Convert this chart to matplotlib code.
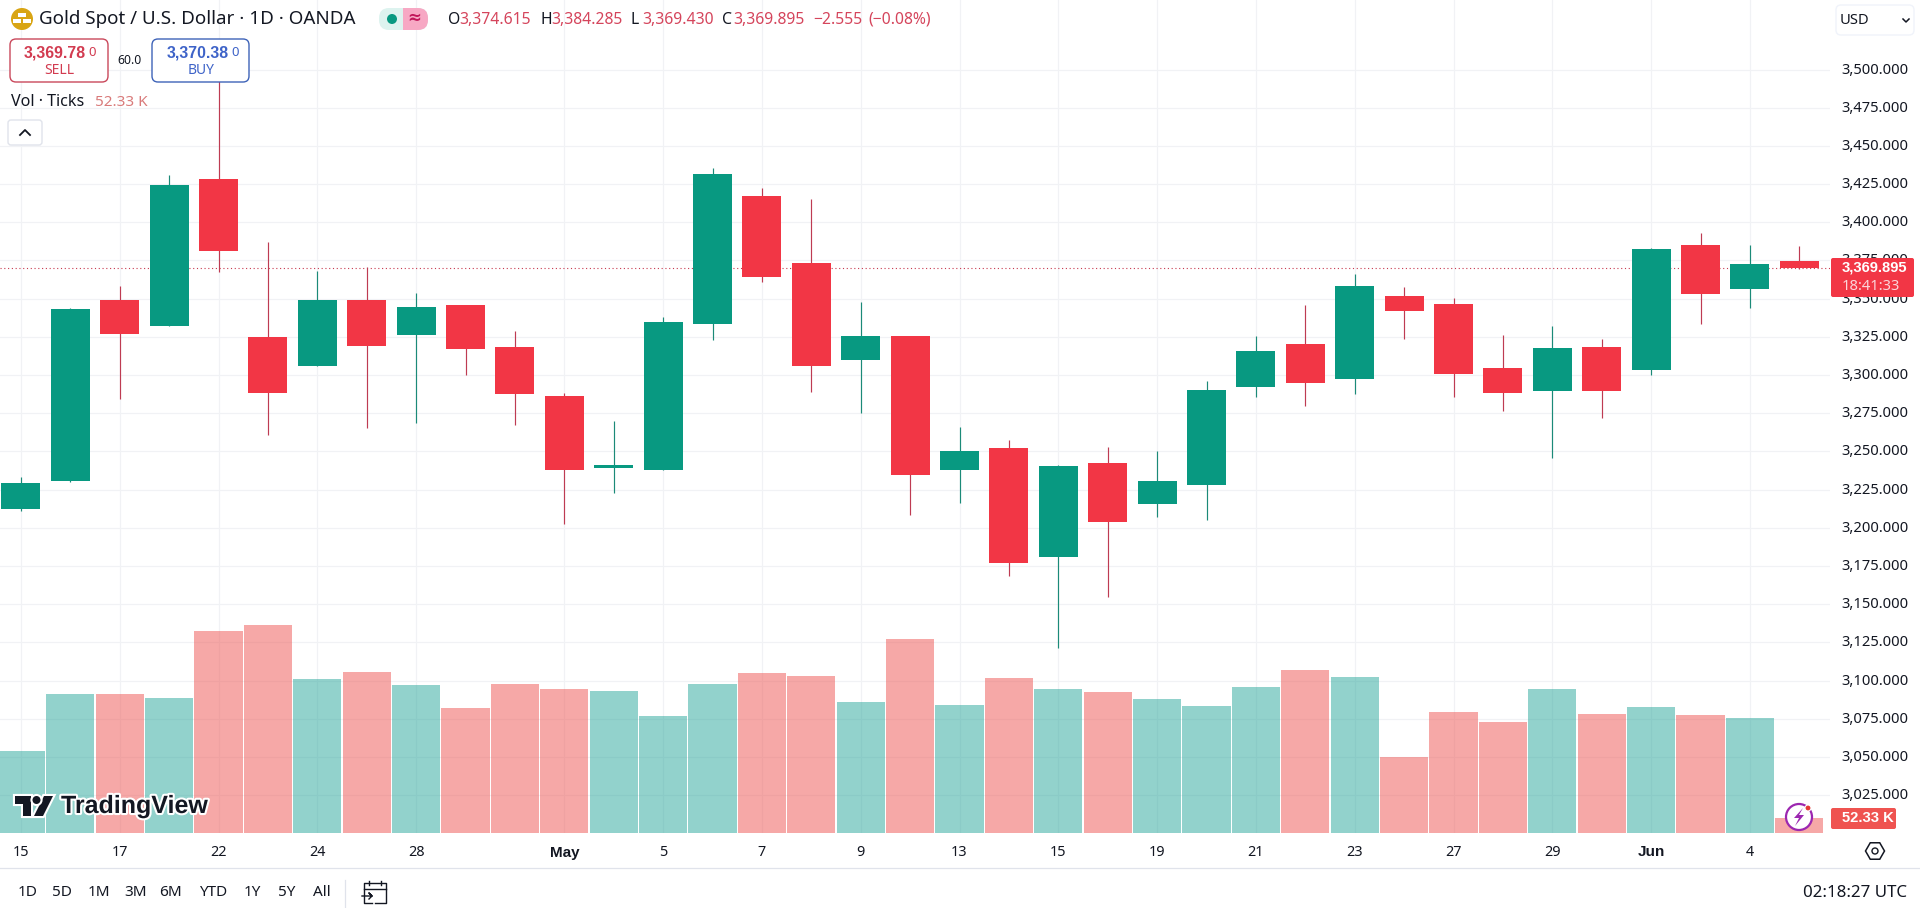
import matplotlib
matplotlib.use("Agg")
import matplotlib.pyplot as plt
import matplotlib.patheffects as pe
from matplotlib.patches import Circle, FancyBboxPatch, Polygon, Rectangle
from matplotlib.transforms import ScaledTranslation
import numpy as np

plt.rcParams['font.family'] = ['Noto Sans', 'DejaVu Sans']

# daily candles
opens = [3212.1, 3230.6, 3349.1, 3332.1, 3428.3, 3324.9, 3306.1, 3349.1, 3326.2, 3345.8,
         3318.3, 3286.2, 3239.1, 3237.8, 3333.4, 3417.2, 3373.3, 3309.8, 3325.5, 3237.8,
         3252.2, 3180.9, 3242.4, 3215.6, 3228.0, 3292.1, 3320.3, 3297.4, 3351.7, 3346.5,
         3304.6, 3289.5, 3318.3, 3303.3, 3385.1, 3356.3, 3374.615]
highs = [3233.0, 3343.7, 3358.3, 3431.0, 3500.1, 3387.1, 3368.1, 3370.7, 3353.5, 3345.8,
         3328.8, 3288.0, 3269.9, 3338.0, 3435.3, 3422.4, 3415.2, 3347.8, 3325.5, 3266.0,
         3257.4, 3241.0, 3252.9, 3250.2, 3296.1, 3325.5, 3345.8, 3366.1, 3357.6, 3350.4,
         3326.2, 3332.1, 3323.6, 3382.9, 3393.0, 3385.1, 3384.285]
lows = [3211.0, 3230.0, 3284.3, 3332.1, 3367.6, 3260.7, 3306.1, 3265.3, 3268.8, 3300.0,
        3267.3, 3202.5, 3222.7, 3237.8, 3322.9, 3360.9, 3288.9, 3275.1, 3208.3, 3216.2,
        3168.4, 3121.3, 3154.7, 3207.0, 3205.1, 3285.6, 3279.7, 3287.6, 3323.6, 3285.6,
        3276.4, 3245.7, 3271.9, 3300.0, 3333.4, 3343.9, 3369.43]
closes = [3229.6, 3343.2, 3326.8, 3424.4, 3381.2, 3288.2, 3349.1, 3319.0, 3344.5, 3317.0,
          3287.6, 3237.8, 3241.1, 3334.7, 3431.6, 3364.2, 3305.9, 3325.5, 3234.5, 3250.2,
          3176.9, 3240.4, 3203.8, 3230.6, 3290.2, 3315.7, 3294.8, 3358.3, 3341.9, 3300.7,
          3288.2, 3317.7, 3289.5, 3382.5, 3353.0, 3372.7, 3369.895]
volumes = [291, 494, 494, 480, 718, 739, 547, 572, 526, 444, 529, 512, 504, 415, 529, 569,
           558, 465, 690, 455, 551, 512, 501, 476, 451, 519, 579, 554, 269, 430, 394, 512,
           423, 447, 419, 408, 52.33]

date_idx = [0, 2, 4, 6, 8, 11, 13, 15, 17, 19, 21, 23, 25, 27, 29, 31, 33, 35]
date_labels = ['15', '17', '22', '24', '28', 'May', '5', '7', '9', '13', '15', '19', '21',
               '23', '27', '29', 'Jun', '4']
price_ticks = list(range(3025, 3525, 25))
ranges = ['1D', '5D', '1M', '3M', '6M', 'YTD', '1Y', '5Y', 'All']
range_x = [28, 62, 99, 135.5, 171, 213, 252, 286.5, 321.5]

UP, DOWN = '#089981', '#F23645'
TEXT = '#131722'
GRID = '#F1F2F5'
BOLD = 'Liberation Sans'

W, H = 1920, 908
PANE_W, PANE_H = 1830, 833
VOL_TOP = 2965.0

fig = plt.figure(figsize=(W / 100, H / 100), dpi=100, facecolor='white')
ax = fig.add_axes([0, 1 - PANE_H / H, PANE_W / W, PANE_H / H])

x = np.arange(len(opens))
o, h, l, c = map(np.array, (opens, highs, lows, closes))
up = c >= o
colors = np.where(up, UP, DOWN)
wick_colors = np.where(up, '#1B8A78', '#BE3B52')
vol_colors = np.where(up, '#26A69A', '#EF5350')

# volume sits in the same axes, scaled to the pane height
ax.bar(x, np.array(volumes) / VOL_TOP, width=0.975, color=vol_colors, alpha=0.5,
       transform=ax.get_xaxis_transform(), zorder=1, linewidth=0)
ax.axhline(closes[-1], color='#C8394F', lw=0.8, ls=(0, (1, 2.4)), zorder=1.5)
ax.vlines(x, l, h, colors=wick_colors, lw=0.85, zorder=2)
ax.bar(x, np.abs(c - o), bottom=np.minimum(o, c), width=0.79, color=colors, zorder=3, linewidth=0)

ax.set_xlim(-0.423, 36.62)
ax.set_ylim(3000.17, 3545.5)

ax.set_axisbelow(True)
ax.grid(True, color=GRID, lw=0.85)
ax.set_xticks(date_idx, date_labels)
ax.set_yticks(price_ticks, [f'{p:,.3f}' for p in price_ticks])
ax.yaxis.tick_right()
ax.tick_params(axis='y', length=0, pad=8.5, labelsize=10.6, labelcolor=TEXT)
ax.tick_params(axis='x', length=0, pad=9, labelsize=10.4, labelcolor=TEXT)
nudge = ScaledTranslation(0, 1.5 / 100, fig.dpi_scale_trans)
for t in ax.get_yticklabels():
    t.set_transform(t.get_transform() + nudge)
for t in ax.get_xticklabels():
    if t.get_text() in ('May', 'Jun'):
        t.set_fontweight('bold')
        t.set_family(BOLD)
        t.set_fontsize(11)
for s in ax.spines.values():
    s.set_visible(False)

# everything around the chart is drawn in pixel coordinates on top
ui = fig.add_axes([0, 0, 1, 1], zorder=10)
ui.set_xlim(0, W)
ui.set_ylim(H, 0)
ui.axis('off')


def label(px, py, s, color=TEXT, size=10.4, ha='left', **kw):
    return ui.text(px, py, s, color=color, fontsize=size, ha=ha, va='center', **kw)


def box(x0, y0, x1, y1, fc='white', ec='none', lw=1.0, r=4, **kw):
    p = FancyBboxPatch((x0 + r, y0 + r), x1 - x0 - 2 * r, y1 - y0 - 2 * r,
                       boxstyle=f'round,pad={r},rounding_size={r}', fc=fc, ec=ec, lw=lw, **kw)
    ui.add_patch(p)
    return p


# header
ui.add_patch(Circle((22, 19), 11, fc='#D9A514', ec='none'))
for bx, by in [(17, 21), (27, 21), (22, 15)]:
    ui.add_patch(Rectangle((bx - 4, by - 2), 8, 4, fc='white', ec='none'))
label(39, 19.5, 'Gold Spot / U.S. Dollar · 1D · OANDA', size=13.5)

box(379, 8, 428, 30, fc='#DDF3EF', r=10)
box(403, 8, 428, 30, fc='#F7A8C4', r=10)
ui.add_patch(Rectangle((403, 8), 12, 22, fc='#F7A8C4', ec='none'))
ui.add_patch(Circle((392, 19), 5, fc=UP, ec='none'))
label(414, 19, '≈', color='#C2185B', size=12, ha='center', fontweight='bold')

ohlc_red = '#D5455C'
for lx, vx, k, v in [(448, 459, 'O', '3,374.615'), (540, 551, 'H', '3,384.285'),
                     (631, 642, 'L', '3,369.430'), (722, 733, 'C', '3,369.895')]:
    label(lx, 20, k, size=11.3)
    label(vx, 20, v, color=ohlc_red, size=11.3)
label(813, 20, '−2.555', color=ohlc_red, size=11.3)
label(868, 20, '(−0.08%)', color=ohlc_red, size=11.3)

# sell / buy
box(10, 39, 108, 82, ec='#C9485B', lw=1.0, r=6)
label(24, 53, '3,369.78', color='#D23B50', size=11.4, fontweight='bold', family=BOLD)
label(88, 52, '0', color='#D23B50', size=9.5)
label(59, 70, 'SELL', color='#D23B50', size=10, ha='center')
label(130, 60, '60.0', size=8.8, ha='center')
box(152, 39, 249, 82, ec='#3E63B8', lw=1.0, r=6)
label(167, 53, '3,370.38', color='#3E63C8', size=11.4, fontweight='bold', family=BOLD)
label(231, 52, '0', color='#3E63C8', size=9.5)
label(201, 70, 'BUY', color='#3E63C8', size=10, ha='center')

label(11, 102, 'Vol · Ticks', size=11.6)
label(95, 102, '52.33 K', color='#D97A7A', size=11)
box(8, 120, 42, 145, ec='#E0E3EB', lw=1.0, r=3)
ui.plot([20, 25, 30], [135, 130, 135], color=TEXT, lw=1.3)

# currency box
box(1836, 5, 1914, 35, ec='#F0F3FA', lw=1.0, r=5)
label(1840, 20, 'USD', size=10.6)
ui.plot([1903, 1906, 1909], [19, 22, 19], color=TEXT, lw=1.1)

# last price and volume tags
box(1831, 258, 1914, 297, fc=DOWN, r=2)
label(1842, 267.5, f'{closes[-1]:,.3f}', color='white', size=10.6, fontweight='bold', family=BOLD)
label(1842, 286, '18:41:33', color='#FBD5DA', size=10.6)
box(1831, 808, 1896, 829, fc='#EF5350', r=2)
label(1842, 818.5, f'{volumes[-1]:.2f} K', color='white', size=10.6, fontweight='bold', family=BOLD)

# watermark
halo = [pe.withStroke(linewidth=3, foreground='white')]
for pts in ([(15, 796), (31, 796), (31, 816), (23, 816), (23, 804), (15, 804)],
            [(44, 796), (53, 796), (43, 816), (34, 816)]):
    ui.add_patch(Polygon(pts, fc='#131722', ec='none', path_effects=halo))
ui.add_patch(Circle((36.5, 800), 4, fc='#131722', ec='none', path_effects=halo))
label(61, 806, 'TradingView', size=18, fontweight='bold', family=BOLD, path_effects=halo)

# flash icon over the last volume bar
ui.add_patch(Circle((1799, 817), 13, fc='white', ec='#9C27B0', lw=1.6))
ui.add_patch(Polygon([(1803, 808), (1794, 818), (1799, 818), (1795, 826), (1804, 815), (1799, 815)],
                     fc='#9C27B0', ec='none'))
ui.add_patch(Circle((1808, 808), 3, fc='#E53935', ec='white', lw=0.8))

# settings hexagon on the time scale
ang = np.deg2rad(np.arange(0, 360, 60))
ui.add_patch(Polygon(np.c_[1875 + 9.5 * np.cos(ang), 851 + 9.5 * np.sin(ang)], fc='none', ec=TEXT, lw=1.1))
ui.add_patch(Circle((1875, 851), 3, fc='none', ec=TEXT, lw=1.0))

# bottom toolbar
ui.plot([0, W], [868, 868], color='#E0E3EB', lw=0.9)
for rx, r in zip(range_x, ranges):
    label(rx, 893, r, size=11, ha='center')
ui.plot([345, 345], [880, 908], color='#E0E3EB', lw=0.9)
ui.plot([372, 364, 364, 386, 386, 375], [903, 903, 883, 883, 903, 903], color=TEXT, lw=1.0)
ui.plot([364, 386], [889, 889], color=TEXT, lw=1.0)
ui.plot([369, 369], [881, 885], color=TEXT, lw=1.0)
ui.plot([381, 381], [881, 885], color=TEXT, lw=1.0)
ui.plot([362, 372, 369, 372, 369], [896, 896, 893, 896, 899], color=TEXT, lw=1.0)
label(1907, 893, '02:18:27 UTC', size=12.2, ha='right')

fig.savefig('out.png', dpi=100)
